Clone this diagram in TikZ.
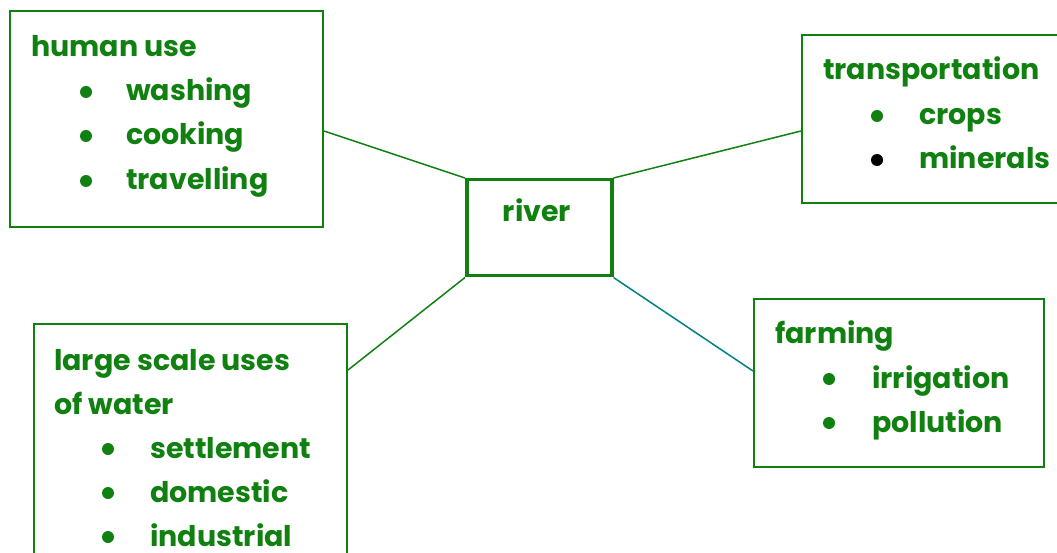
\documentclass[tikz,border=0pt]{standalone}
\usepackage{fontspec}
\setmainfont{Poppins}
\definecolor{tgreen}{RGB}{16,128,16}
\definecolor{tteal}{RGB}{0,128,128}
\begin{document}
\begin{tikzpicture}[x=1pt,y=-1pt,
  box/.style={draw=tgreen,line width=2pt,inner sep=0pt,anchor=north west},
  txt/.style={anchor=base west,inner sep=0pt,text=tgreen,font=\fontsize{28.5}{32}\selectfont\bfseries},
  bul/.style={circle,fill=tgreen,inner sep=0pt,minimum size=12pt},
  link/.style={draw=tgreen,line width=1.5pt}]
\useasboundingbox (0,0) rectangle (1057,553);
% boxes
\node[box,minimum width=313pt,minimum height=216pt] (hu) at (9,10) {};
\node[box,line width=3.5pt,minimum width=145pt,minimum height=96pt] (river) at (465,178) {};
\node[box,minimum width=270pt,minimum height=168pt] (tr) at (801,34) {};
\node[box,minimum width=290pt,minimum height=168pt] (fa) at (753,298) {};
\node[box,minimum width=313pt,minimum height=250pt] (lg) at (33,323) {};
% connectors
\draw[link] ([yshift=-12pt]hu.east) -- (river.north west);
\draw[link] (river.north east) -- ([yshift=-12pt]tr.west);
\draw[link] (river.south west) -- ([yshift=-47pt]lg.north east);
\draw[link,draw=tteal] (river.south east) -- ([yshift=12pt]fa.west);
% river
\node[txt,anchor=base] (rt) at (537,222) {river};
% human use
\node[txt] (hu0) at (31,57) {human use};
\node[bul] (hub1) at (86,92) {};
\node[txt] (hu1) at (126,101) {washing};
\node[bul] (hub2) at (86,136) {};
\node[txt] (hu2) at (126,145) {cooking};
\node[bul] (hub3) at (86,181) {};
\node[txt] (hu3) at (126,190) {travelling};
% transportation
\node[txt] (tr0) at (823,80) {transportation};
\node[bul] (trb1) at (877,116) {};
\node[txt] (tr1) at (919,125) {crops};
\node[bul,fill=black] (trb2) at (877,160) {};
\node[txt] (tr2) at (919,169) {minerals};
% farming
\node[txt] (fa0) at (775,343) {farming};
\node[bul] (fab1) at (829,379) {};
\node[txt] (fa1) at (872,388) {irrigation};
\node[bul] (fab2) at (829,423) {};
\node[txt] (fa2) at (872,432) {pollution};
% large scale
\node[txt] (lg0) at (54,370) {large scale uses};
\node[txt] (lg1) at (54,414) {of water};
\node[bul] (lgb1) at (108,449) {};
\node[txt] (lg2) at (150,458) {settlement};
\node[bul] (lgb2) at (108,493) {};
\node[txt] (lg3) at (150,502) {domestic};
\node[bul] (lgb3) at (108,537) {};
\node[txt] (lg4) at (150,546) {industrial};
\end{tikzpicture}
\end{document}
